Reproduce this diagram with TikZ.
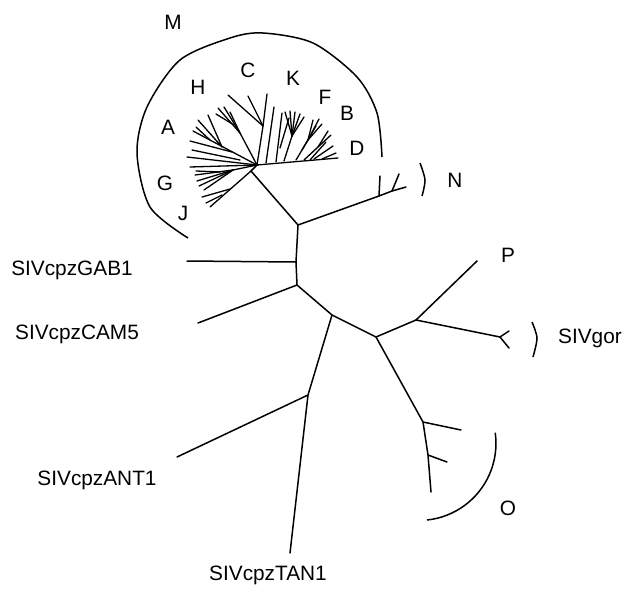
\documentclass[tikz,border=0pt]{standalone}
\usepackage{fontspec}
\setmainfont{Liberation Sans}
\tikzset{
  branch/.style={line width=0.75pt, line cap=round},
  twig/.style={line width=0.65pt, line cap=round},
  clade/.style={line width=0.75pt},
  lbl/.style={font=\fontsize{10.4}{12}\selectfont, inner sep=0pt},
}

\begin{document}
\begin{tikzpicture}[x=0.5pt,y=-0.5pt]
			%%%%% START %%%%%
			\useasboundingbox (0,0) rectangle (625,589);
			
			\coordinate (hub) at (257,165);
			\coordinate (mstem) at (251,171);
			\coordinate (jn1) at (298,225);
			\coordinate (jn2) at (296,262);
			\coordinate (jn3) at (297,285);
			\coordinate (jn4) at (332,315);
			\coordinate (jn5) at (308,395);
			\coordinate (jn6) at (376,337);
			\coordinate (jn7) at (416,320);
			
			\coordinate (nA) at (379,196);
			\coordinate (nB) at (392,191);
			\coordinate (nC) at (406,187);
			\coordinate (gab) at (187,261);
			\coordinate (cam) at (198,323);
			\coordinate (ant) at (177,457);
			\coordinate (tan) at (290,553);
			\coordinate (p) at (477,261);
			\coordinate (gor) at (500,337);
			\coordinate (o1) at (423,422);
			\coordinate (o2) at (428,455);
			\coordinate (o3) at (431,492);
			
			% backbone
			\draw[branch] (hub) -- (mstem) -- (jn1) -- (jn2) -- (jn3) -- (jn4) -- (jn6) -- (jn7) -- (gor);
			\draw[branch] (jn1) -- (nA) -- (nB) -- (nC);
			\draw[branch] (nA) -- (380,176);
			\draw[branch] (nB) -- (399,174);
			\draw[branch] (jn2) -- (gab);
			\draw[branch] (jn3) -- (cam);
			\draw[branch] (jn4) -- (jn5) -- (tan);
			\draw[branch] (jn5) -- (ant);
			\draw[branch] (jn7) -- (p);
			\draw[branch] (gor) -- (509,331);
			\draw[branch] (gor) -- (509,348);
			\draw[branch] (jn6) -- (o1) -- (o2) -- (o3);
			\draw[branch] (o1) -- (461,430);
			\draw[branch] (o2) -- (447,462);
			
			% M group, left side
			\draw[twig] (hub) -- (187,157);
			\draw[twig] (hub) -- (190,167);
			\draw[twig] (hub) -- (193,131);
			\draw[twig] (222,147) -- (198,120);
			\draw[twig] (222,147) -- (208,115);
			\draw[twig] (232,152) -- (190,141);
			\draw[twig] (210,140) -- (196,127);
			\draw[twig] (240,160) -- (192,150);
			
			\draw[twig] (hub) -- (240,133);
			\draw[twig] (240,133) -- (218,108);
			\draw[twig] (240,133) -- (224,107);
			\draw[twig] (240,133) -- (230,112);
			\draw[twig] (234,125) -- (216,114);
			
			\draw[twig] (hub) -- (263,126);
			\draw[twig] (263,126) -- (228,95);
			\draw[twig] (263,126) -- (248,96);
			\draw[twig] (263,126) -- (267,94);
			
			\draw[twig] (hub) -- (233,170);
			\draw[twig] (233,170) -- (195,175);
			\draw[twig] (233,170) -- (197,181);
			\draw[twig] (233,170) -- (199,186);
			\draw[twig] (233,170) -- (204,190);
			\draw[twig] (220,172) -- (196,171);
			
			\draw[twig] (mstem) -- (210,207);
			\draw[twig] (230,189) -- (202,197);
			\draw[twig] (222,195) -- (206,203);
			
			% M group, right side
			\draw[twig] (hub) -- (338,158);
			\draw[twig] (266,163) -- (274,107);
			\draw[twig] (276,162) -- (282,113);
			\draw[twig] (284,161) -- (292,136);
			\foreach \tx/\ty in {285/112, 290/111, 295/112, 300/114, 304/117}
				\draw[twig] (292,136) -- (\tx,\ty);
			\draw[twig] (280,148) -- (289,118);
			\draw[twig] (296,160) -- (308,140);
			\foreach \tx/\ty in {313/120, 319/119, 322/124}
				\draw[twig] (308,140) -- (\tx,\ty);
			\draw[twig] (302,150) -- (316,126);
			\draw[twig] (304,160) -- (318,147);
			\draw[twig] (318,147) -- (328,131);
			\draw[twig] (318,147) -- (331,135);
			\draw[twig] (310,160) -- (326,142);
			\draw[twig] (314,159) -- (333,146);
			\draw[twig] (322,159) -- (336,153);
			
			% clade brackets
			\draw[clade] plot[smooth] coordinates {(188,238) (150,207) (137,153) (147,107) (180,60) (230,38) (263,33) (313,43) (357,77) (377,113) (382,157)};
			\draw[clade] plot[smooth] coordinates {(420,163) (425,180) (422,196)};
			\draw[clade] plot[smooth] coordinates {(532,322) (537,338) (533,357)};
			\draw[clade] (427,520) arc[start angle=84, end angle=-8, radius=77];
			
			% labels
			\node[lbl] (labM) at (173,22) {M};
			\node[lbl] (labH) at (198,87) {H};
			\node[lbl] (labC) at (248,70) {C};
			\node[lbl] (labK) at (293,78) {K};
			\node[lbl] (labF) at (325,97) {F};
			\node[lbl] (labB) at (347,113) {B};
			\node[lbl] (labD) at (357,148) {D};
			\node[lbl] (labA) at (168,127) {A};
			\node[lbl] (labG) at (165,183) {G};
			\node[lbl] (labJ) at (183,213) {J};
			\node[lbl] (labN) at (455,180) {N};
			\node[lbl] (labP) at (508,255) {P};
			\node[lbl] (labO) at (508,508) {O};
			\node[lbl] (labGor) at (590,338) {SIVgor};
			\node[lbl] (labGab) at (72,270) {SIVcpzGAB1};
			\node[lbl] (labCam) at (77,334) {SIVcpzCAM5};
			\node[lbl] (labAnt) at (97,480) {SIVcpzANT1};
			\node[lbl] (labTan) at (268,575) {SIVcpzTAN1};
			%%%%% END %%%%%
\end{tikzpicture}
\end{document}
